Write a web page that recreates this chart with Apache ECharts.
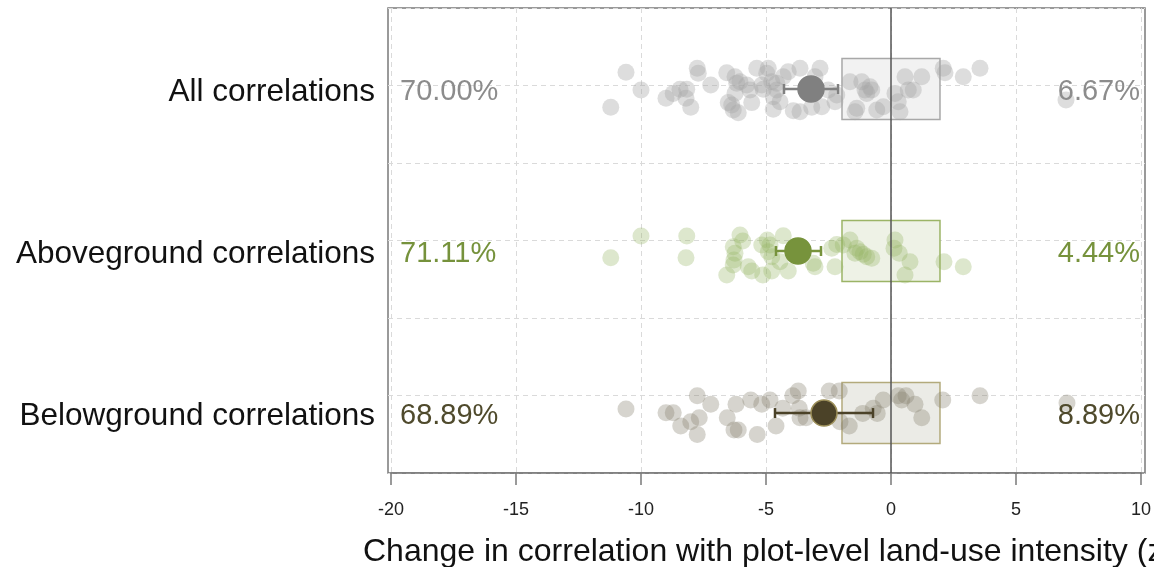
<!DOCTYPE html>
<html>
<head>
<meta charset="utf-8">
<script src="https://cdn.jsdelivr.net/npm/echarts@6/dist/echarts.min.js"></script>
<style>
html,body{margin:0;padding:0;background:#fff;}
#chart{width:1154px;height:567px;}
</style>
</head>
<body>
<div id="chart"></div>
<script>
// ---------- data ----------
const categories = ['All correlations', 'Aboveground correlations', 'Belowground correlations'];
const rowLevels = [3, 2, 1];
const xTicks = [-20, -15, -10, -5, 0, 5, 10];
const xTitle = 'Change in correlation with plot-level land-use intensity (z-score)';

const pctLeft = ['70.00%', '71.11%', '68.89%'];
const pctRight = ['6.67%', '4.44%', '8.89%'];

const meanVals = [-3.2, -3.72, -2.68];
const ciLow = [-4.28, -4.6, -4.64];
const ciHigh = [-2.12, -2.8, -0.72];

const equivLow = -1.96;
const equivHigh = 1.96;

// individual correlations: [change, jittered row value]
const allDots = [[-10.6,3.103],[-10.0,2.994],[-11.21,2.887],[-7.75,3.128],[-7.71,3.097],[-9.0,2.943],[-8.71,2.973],[-8.44,2.998],[-8.17,2.998],[-8.2,2.943],[-8.01,2.887],[-7.21,3.025],[-6.57,3.101],[-6.24,3.076],[-6.04,3.045],[-5.77,3.025],[-5.64,2.994],[-6.24,2.973],[-6.51,2.916],[-6.37,2.901],[-6.31,2.870],[-6.11,2.854],[-5.37,3.128],[-4.91,3.128],[-4.97,3.097],[-5.17,3.025],[-5.11,2.998],[-5.57,2.916],[-4.77,3.045],[-4.57,2.994],[-4.71,2.952],[-4.44,2.922],[-4.71,2.875],[-4.31,3.076],[-4.11,3.107],[-3.64,3.128],[-3.91,2.866],[-3.64,2.860],[-3.17,2.887],[-2.77,2.891],[-2.84,3.128],[-3.04,3.076],[-2.51,2.994],[-2.24,2.922],[-2.17,2.963],[-1.64,3.045],[-1.17,3.045],[-1.04,2.994],[-0.77,2.994],[-0.97,2.973],[-1.37,2.881],[-1.44,2.860],[-0.57,2.870],[-0.31,2.891],[0.16,2.973],[0.29,2.922],[0.36,2.860],[0.56,3.076],[0.89,2.994],[1.23,3.076],[2.09,3.128],[2.16,3.101],[2.89,3.076],[3.56,3.128],[7.0,2.932],[-6.17,3.035],[-4.57,3.035],[0.69,2.994],[-0.84,3.014]];
const aboveDots = [[-11.21,1.959],[-10.0,2.093],[-8.17,2.093],[-8.2,1.959],[-6.04,2.099],[-5.93,2.062],[-6.31,2.027],[-6.24,1.986],[-6.28,1.944],[-6.31,1.914],[-6.57,1.852],[-5.71,1.903],[-5.57,1.877],[-5.13,1.852],[-4.77,1.877],[-5.17,2.037],[-4.95,2.068],[-4.84,2.037],[-4.31,2.095],[-4.77,1.965],[-4.44,1.934],[-4.11,1.877],[-3.11,1.924],[-3.04,1.903],[-2.37,2.017],[-2.17,2.041],[-1.91,2.037],[-1.64,2.068],[-2.24,1.903],[-1.37,2.017],[-1.44,1.986],[-1.11,1.980],[-0.97,1.965],[-0.77,1.955],[0.16,2.068],[0.12,2.017],[0.33,1.986],[0.76,1.934],[0.56,1.852],[2.12,1.934],[2.89,1.903],[-4.91,1.996],[-1.24,1.996]];
const belowDots = [[-10.6,1.025],[-9.0,1.002],[-8.71,1.002],[-7.75,1.107],[-7.21,1.054],[-8.41,0.920],[-8.01,0.946],[-7.67,0.971],[-7.75,0.868],[-6.55,0.971],[-6.2,1.054],[-6.28,0.895],[-6.11,0.895],[-5.61,1.080],[-5.17,1.054],[-4.84,1.080],[-5.35,0.868],[-4.6,0.920],[-4.33,1.029],[-3.93,1.107],[-3.71,1.136],[-3.67,1.029],[-3.64,0.971],[-3.4,0.971],[-2.47,1.136],[-2.07,1.136],[-2.04,0.946],[-1.67,0.920],[-1.13,0.998],[-0.71,1.029],[-0.55,0.998],[-0.31,1.080],[0.29,1.107],[0.43,1.080],[0.6,1.107],[0.96,1.054],[1.23,0.971],[2.07,1.080],[3.56,1.107],[7.04,1.062]];

// ---------- styles ----------
const FONT = "'Liberation Sans', Arial, Helvetica, sans-serif";
const dotColors = ['rgba(165,165,165,0.38)', 'rgba(150,180,100,0.32)', 'rgba(135,130,110,0.34)'];
const meanColors = ['#808080', '#77933c', '#4b4228'];
const meanBorders = ['#808080', '#77933c', '#9c8f5a'];
const textColors = ['#8c8c8c', '#76923c', '#4f4a2c'];
const boxFills = ['#f2f2f2', '#eef2e6', '#ebebe6'];
const boxStrokes = ['#a8a8a8', '#9bb466', '#b3aa7c'];
const BOX_HALF = 0.188;
const CAP = 5;

const chart = echarts.init(document.getElementById('chart'), null, {renderer: 'canvas'});

const dotSeries = [allDots, aboveDots, belowDots].map((d, i) => ({
  type: 'scatter', name: 'dots' + i, xAxisIndex: 0, yAxisIndex: 0, z: 3, symbolSize: 17,
  data: d, itemStyle: {color: dotColors[i], opacity: 1}
}));

const option = {
  animation: false,
  backgroundColor: '#ffffff',
  textStyle: {fontFamily: FONT},
  title: {
    text: xTitle,
    left: 358,
    top: 531,
    textStyle: {fontFamily: FONT, fontSize: 32, fontWeight: 'normal', color: '#111'}
  },
  grid: [
    {left: 391, right: 13, top: 8, bottom: 94, show: false},
    {left: 388, right: 9, top: 8, bottom: 94, show: true, borderColor: '#7a7a7a', borderWidth: 1.5, backgroundColor: 'transparent'}
  ],
  xAxis: [
    {
      type: 'value', gridIndex: 0, min: xTicks[0], max: xTicks[xTicks.length - 1], interval: 5,
      axisLine: {show: true, lineStyle: {color: '#7a7a7a', width: 1.5}},
      axisTick: {show: true, length: 12, lineStyle: {color: '#7a7a7a', width: 1.5}},
      axisLabel: {show: true, fontSize: 18, color: '#222', margin: 28, fontFamily: FONT},
      splitLine: {show: true, lineStyle: {color: '#dadada', type: [5, 4], width: 1}}
    },
    {type: 'value', gridIndex: 1, show: false, min: 0, max: 1}
  ],
  yAxis: [
    {
      type: 'value', gridIndex: 0, min: 0.63, max: 3.5,
      axisLine: {show: false}, axisTick: {show: false},
      splitLine: {show: false},
      axisLabel: {
        show: true, customValues: rowLevels, margin: 16, fontSize: 31.5, color: '#111', fontFamily: FONT,
        verticalAlign: 'top', lineHeight: 6,
        formatter: function (v) { const i = rowLevels.indexOf(Math.round(v)); return i >= 0 ? categories[i] : ''; }
      }
    },
    {
      type: 'value', gridIndex: 1, min: 0, max: 6, interval: 1,
      axisLine: {show: false}, axisTick: {show: false}, axisLabel: {show: false},
      splitLine: {show: true, lineStyle: {color: '#dadada', type: [5, 4], width: 1}}
    }
  ],
  series: [
    {
      type: 'custom', name: 'equivalence', xAxisIndex: 0, yAxisIndex: 0, z: 2,
      encode: {x: [0, 1], y: 2},
      data: rowLevels.map(r => [equivLow, equivHigh, r]),
      renderItem: function (params, api) {
        const row = api.value(2);
        const p1 = api.coord([api.value(0), row + BOX_HALF]);
        const p2 = api.coord([api.value(1), row - BOX_HALF]);
        const i = params.dataIndex;
        return {
          type: 'rect',
          shape: {x: p1[0], y: p1[1], width: p2[0] - p1[0], height: p2[1] - p1[1]},
          style: {fill: boxFills[i], stroke: boxStrokes[i], lineWidth: 1.5}
        };
      }
    },
    ...dotSeries,
    {
      type: 'custom', name: 'ci', xAxisIndex: 0, yAxisIndex: 0, z: 4,
      encode: {x: [0, 1], y: 2},
      data: rowLevels.map((r, i) => [ciLow[i], ciHigh[i], r]),
      renderItem: function (params, api) {
        const row = api.value(2);
        const a = api.coord([api.value(0), row]);
        const b = api.coord([api.value(1), row]);
        const st = {stroke: meanColors[params.dataIndex], lineWidth: 2.5};
        return {
          type: 'group',
          children: [
            {type: 'line', shape: {x1: a[0], y1: a[1], x2: b[0], y2: b[1]}, style: st},
            {type: 'line', shape: {x1: a[0], y1: a[1] - CAP, x2: a[0], y2: a[1] + CAP}, style: st},
            {type: 'line', shape: {x1: b[0], y1: b[1] - CAP, x2: b[0], y2: b[1] + CAP}, style: st}
          ]
        };
      },
      markLine: {
        silent: true, symbol: ['none', 'none'], label: {show: false},
        lineStyle: {color: '#555', width: 1.5, type: 'solid'},
        data: [{xAxis: 0}]
      }
    },
    {
      type: 'scatter', name: 'mean', xAxisIndex: 0, yAxisIndex: 0, z: 5, symbolSize: 26,
      data: rowLevels.map((r, i) => ({
        value: [meanVals[i], r],
        itemStyle: {color: meanColors[i], borderColor: meanBorders[i], borderWidth: 1.5, opacity: 1}
      }))
    },
    {
      type: 'custom', name: 'pct', xAxisIndex: 0, yAxisIndex: 0, z: 6,
      encode: {x: [0, 1], y: 2},
      data: rowLevels.map(r => [xTicks[0], xTicks[xTicks.length - 1], r]),
      renderItem: function (params, api) {
        const i = params.dataIndex;
        const row = api.value(2);
        const l = api.coord([api.value(0), row]);
        const rgt = api.coord([api.value(1), row]);
        const base = {fontFamily: FONT, fontSize: 29, fill: textColors[i], verticalAlign: 'middle'};
        return {
          type: 'group',
          children: [
            {type: 'text', x: l[0] + 9, y: l[1] + 3, style: Object.assign({text: pctLeft[i], align: 'left'}, base)},
            {type: 'text', x: rgt[0] - 1, y: rgt[1] + 3, style: Object.assign({text: pctRight[i], align: 'right'}, base)}
          ]
        };
      }
    }
  ]
};
chart.setOption(option);
</script>
</body>
</html>
